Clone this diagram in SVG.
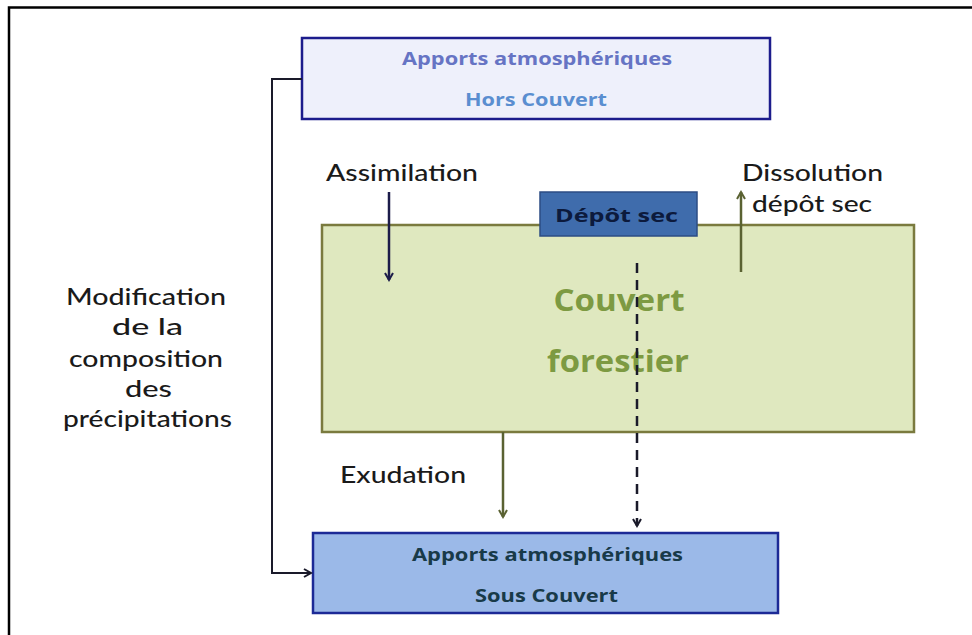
<svg xmlns="http://www.w3.org/2000/svg" width="972" height="635" viewBox="0 0 972 635">
<style>
.lbl{font-family:Lato,"Open Sans","Liberation Sans",sans-serif;font-size:23px;font-weight:500;fill:#1a1a1a;text-anchor:middle}
.box{font-family:"Open Sans","Liberation Sans",sans-serif;font-weight:bold;font-size:18px;text-anchor:middle}
.big{font-family:"Open Sans","Liberation Sans",sans-serif;font-weight:bold;font-size:30px;fill:#7d9a42;text-anchor:middle}
</style>
<defs>
<marker id="ah-navy" markerWidth="10" markerHeight="10" refX="8" refY="5" orient="auto" markerUnits="userSpaceOnUse"><path d="M1,1 L8,5 L1,9" fill="none" stroke="#1c1c4a" stroke-width="2"/></marker>
<marker id="ah-olive" markerWidth="10" markerHeight="10" refX="8" refY="5" orient="auto" markerUnits="userSpaceOnUse"><path d="M1,1 L8,5 L1,9" fill="none" stroke="#5a6232" stroke-width="2"/></marker>
<marker id="ah-black" markerWidth="10" markerHeight="10" refX="8" refY="5" orient="auto" markerUnits="userSpaceOnUse"><path d="M1,1 L8,5 L1,9" fill="none" stroke="#1a1a2a" stroke-width="2"/></marker>
</defs>
<rect width="972" height="635" fill="#ffffff"/>
<path d="M9,635 V7.5 H972" fill="none" stroke="#000" stroke-width="2.5"/>

<g id="hors-couvert">
<rect x="302" y="38" width="468" height="81" fill="#eef0fb" stroke="#1c1c8c" stroke-width="2.5"/>
<text class="box" x="537" y="65" fill="#6674c4" textLength="270" lengthAdjust="spacingAndGlyphs">Apports atmosphériques</text>
<text class="box" x="536" y="106" fill="#5a8ed0" textLength="142" lengthAdjust="spacingAndGlyphs">Hors Couvert</text>
</g>

<g id="couvert">
<rect x="322" y="225" width="592" height="207" fill="#dfe8bf" stroke="#7a7a3e" stroke-width="2.5"/>
<text class="big" x="619" y="311" textLength="131" lengthAdjust="spacingAndGlyphs">Couvert</text>
<text class="big" x="618" y="372" textLength="142" lengthAdjust="spacingAndGlyphs">forestier</text>
</g>

<g id="depot-sec">
<rect x="540" y="192" width="157" height="44" fill="#3f6cac" stroke="#2c4c84" stroke-width="1.5"/>
<text class="box" x="616.5" y="222" fill="#0c1a3c" textLength="123" lengthAdjust="spacingAndGlyphs">Dépôt sec</text>
</g>

<g id="sous-couvert">
<rect x="313" y="533" width="465" height="80" fill="#9bb9e8" stroke="#1c2a96" stroke-width="2.5"/>
<text class="box" x="547.5" y="561" fill="#183a48" textLength="271" lengthAdjust="spacingAndGlyphs">Apports atmosphériques</text>
<text class="box" x="546.5" y="602" fill="#183a48" textLength="143" lengthAdjust="spacingAndGlyphs">Sous Couvert</text>
</g>

<g id="labels">
<text class="lbl" x="402" y="181" textLength="152" lengthAdjust="spacingAndGlyphs">Assimilation</text>
<text class="lbl" x="812.5" y="181" textLength="141" lengthAdjust="spacingAndGlyphs">Dissolution</text>
<text class="lbl" x="812" y="212" textLength="120" lengthAdjust="spacingAndGlyphs">dépôt sec</text>
<text class="lbl" x="403" y="483" textLength="126" lengthAdjust="spacingAndGlyphs">Exudation</text>
<text class="lbl" x="146" y="305" font-size="24" textLength="160" lengthAdjust="spacingAndGlyphs">Modification</text>
<text class="lbl" x="147.5" y="335" font-size="24" textLength="71" lengthAdjust="spacingAndGlyphs">de la</text>
<text class="lbl" x="146" y="367" font-size="24" textLength="154" lengthAdjust="spacingAndGlyphs">composition</text>
<text class="lbl" x="148.5" y="397" font-size="24" textLength="47" lengthAdjust="spacingAndGlyphs">des</text>
<text class="lbl" x="147.5" y="427" font-size="24" textLength="169" lengthAdjust="spacingAndGlyphs">précipitations</text>
</g>

<g id="connectors" fill="none">
<path d="M302,79 H272 V573 H311" stroke="#1a1a2a" stroke-width="2" marker-end="url(#ah-black)"/>
<path d="M389,192 V280" stroke="#1c1c4a" stroke-width="2.5" marker-end="url(#ah-navy)"/>
<path d="M741,272 V192" stroke="#5a6232" stroke-width="2.5" marker-end="url(#ah-olive)"/>
<path d="M503,432 V517" stroke="#5a6232" stroke-width="2.5" marker-end="url(#ah-olive)"/>
<path d="M637,263 V526" stroke="#1a1a2a" stroke-width="2.5" stroke-dasharray="10,7" marker-end="url(#ah-black)"/>
</g>
</svg>
